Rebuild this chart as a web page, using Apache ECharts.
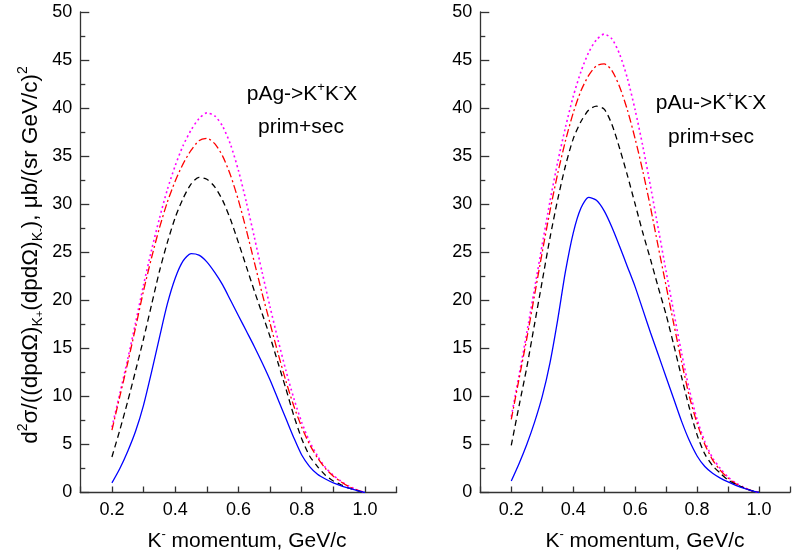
<!DOCTYPE html>
<html><head><meta charset="utf-8">
<script src="https://cdn.jsdelivr.net/npm/echarts@6/dist/echarts.min.js"></script>
<style>html,body{margin:0;padding:0;background:#fff}#c{width:793px;height:556px}</style>
</head><body><div id="c"></div>
<script>
// momentum grid, GeV/c
const xs = [0.2,0.225,0.25,0.275,0.3,0.325,0.35,0.375,0.4,0.425,0.45,0.475,0.5,0.525,0.55,0.575,0.6,0.625,0.65,0.675,0.7,0.725,0.75,0.775,0.8,0.825,0.85,0.875,0.9,0.925,0.95,0.975,1.0];
// pAg panel
const agBlue = [1.0,2.5,4.3,6.4,9.1,12.5,16.1,19.6,22.3,24.1,24.85,24.7,24.0,22.9,21.6,20.0,18.4,16.8,15.2,13.5,11.7,9.7,7.7,5.7,3.9,2.7,1.9,1.4,1.0,0.7,0.45,0.2,0.0];
const agBlack = [3.7,6.5,9.5,12.7,16.0,19.5,23.0,26.0,28.6,30.6,32.1,32.8,32.6,31.8,30.4,28.4,26.0,23.5,21.0,18.6,16.2,13.5,10.8,8.0,5.6,3.8,2.7,1.8,1.2,0.8,0.45,0.2,0.0];
const agRed = [6.5,10.0,13.5,17.2,21.0,24.4,27.5,30.2,32.4,34.2,35.6,36.6,36.85,36.3,35.0,33.0,30.4,27.3,24.0,20.7,17.6,14.5,11.6,9.0,6.8,5.0,3.6,2.5,1.7,1.1,0.6,0.25,0.0];
const agMagenta = [6.8,10.3,13.9,17.7,21.6,25.2,28.5,31.5,34.0,36.1,37.7,38.9,39.5,39.2,38.1,36.2,33.5,30.2,26.6,22.9,19.3,15.9,12.7,9.8,7.3,5.3,3.8,2.6,1.8,1.15,0.65,0.28,0.0];
// pAu panel
const auBlue = [1.2,3.0,5.0,7.3,10.0,13.5,18.0,23.0,27.0,29.6,30.7,30.4,29.3,27.6,25.6,23.5,21.4,19.0,16.6,14.3,12.0,9.7,7.4,5.4,3.8,2.7,2.0,1.5,1.1,0.75,0.45,0.2,0.0];
const auBlack = [4.9,9.0,13.0,17.5,22.0,26.5,30.5,34.0,36.8,38.6,39.8,40.2,39.9,38.3,35.8,33.0,30.0,27.0,24.2,21.3,18.5,15.3,12.0,8.8,6.0,4.0,2.8,2.0,1.3,0.85,0.5,0.2,0.0];
const auRed = [7.6,11.8,16.0,20.5,25.0,29.3,33.2,36.6,39.5,41.8,43.4,44.4,44.6,43.9,42.2,39.8,36.8,33.4,29.6,25.5,21.5,17.5,13.6,10.0,7.2,5.0,3.4,2.3,1.5,0.9,0.5,0.2,0.0];
const auMagenta = [7.9,12.2,16.6,21.2,25.8,30.3,34.4,38.0,41.2,43.8,45.8,47.1,47.7,47.2,45.6,43.1,39.8,36.0,31.8,27.4,23.0,18.7,14.5,10.7,7.6,5.3,3.6,2.5,1.6,1.0,0.55,0.22,0.0];
// axis ranges
const xMin = 0.1, xMax = 1.1, xStep = 0.1;
const yMin = 0, yMax = 50, yStep = 5;

const FONT = "'Liberation Sans', Arial, sans-serif";
const chart = echarts.init(document.getElementById('c'), null, {renderer:'canvas'});
const zip = ys => xs.map((x,i)=>[x, ys[i]]);

const styles = [
  {name:'prim', color:'#0000ff', type:'solid', w:1.3},
  {name:'sec1', color:'#000000', type:[6,4], w:1.3},
  {name:'sec2', color:'#ff0000', type:[8,3,2,3], w:1.3},
  {name:'sec3', color:'#ff00ff', type:[2,3], w:1.6}
];
const panels = [[agBlue,agBlack,agRed,agMagenta],[auBlue,auBlack,auRed,auMagenta]];

function xAx(i){
  return {gridIndex:i, type:'value', min:xMin, max:xMax, interval:xStep,
    axisLine:{onZero:false, lineStyle:{color:'#333', width:1.3}},
    axisTick:{inside:true, length:6, lineStyle:{color:'#333', width:1.3}},
    splitLine:{show:false},
    axisLabel:{color:'#000', fontFamily:FONT, fontSize:18, margin:9,
      formatter:v=>{const k=Math.round(v*10); return (k%2===0)? (k/10).toFixed(1):'';}}
  };
}
function yAx(i){
  return {gridIndex:i, type:'value', min:yMin, max:yMax, interval:yStep,
    axisLine:{show:true, onZero:false, lineStyle:{color:'#333', width:1.3}},
    axisTick:{inside:true, length:9, lineStyle:{color:'#333', width:1.3}},
    minorTick:{show:true, splitNumber:2, length:5, lineStyle:{color:'#333', width:1.3}},
    splitLine:{show:false},
    axisLabel:{color:'#000', fontFamily:FONT, fontSize:18, margin:8}
  };
}
const series = [];
panels.forEach((p,pi)=>{
  p.forEach((ys,si)=>{
    const s = styles[si];
    series.push({type:'line', name:s.name, xAxisIndex:pi, yAxisIndex:pi, data:zip(ys),
      smooth:0.25, showSymbol:false, symbol:'none', z: 10-si,
      lineStyle:{color:s.color, width:s.w, type:s.type}});
  });
});

function mkRich(fs){
  const lh = Math.round(fs+6);
  return {
    n:{fontSize:fs, fontFamily:FONT, color:'#000', lineHeight:lh},
    sup:{fontSize:Math.round(fs*0.6), fontFamily:FONT, color:'#000', lineHeight:lh, verticalAlign:'top'},
    sub:{fontSize:Math.round(fs*0.62), fontFamily:FONT, color:'#000', lineHeight:Math.round(fs*0.45), verticalAlign:'bottom'},
    subsup:{fontSize:Math.round(fs*0.5), fontFamily:FONT, color:'#000', lineHeight:Math.round(fs*1.25), verticalAlign:'bottom'}
  };
}
function txt(x,y,t,fs,rot){
  return {type:'text', x:x, y:y, rotation:rot||0,
    style:{text:t, rich:mkRich(fs), font:fs+'px '+FONT, fill:'#000', textAlign:'center', textVerticalAlign:'middle'}};
}
const yTitle = '{n|d}{sup|2}{n|σ/((dpdΩ)}{sub|K}{subsup|+}{n|(dpdΩ)}{sub|K}{subsup|-}{n|), μb/(sr GeV/c)}{sup|2}';
const xTitle = '{n|K}{sup|-}{n| momentum, GeV/c}';

chart.setOption({
  animation:false,
  grid:[{left:80.3, top:12, width:316.3, height:480.5},{left:480.3, top:12, width:316.3, height:480.5}],
  xAxis:[xAx(0), xAx(1)],
  yAxis:[yAx(0), yAx(1)],
  series:series,
  graphic:[
    txt(31, 255, yTitle, 22.5, Math.PI/2),
    txt(247, 541, xTitle, 21),
    txt(645, 541, xTitle, 21),
    txt(302, 94, '{n|pAg->K}{sup|+}{n|K}{sup|-}{n|X}', 21),
    txt(301, 127, '{n|prim+sec}', 21),
    txt(711, 103, '{n|pAu->K}{sup|+}{n|K}{sup|-}{n|X}', 21),
    txt(711, 137, '{n|prim+sec}', 21)
  ]
});
</script></body></html>
